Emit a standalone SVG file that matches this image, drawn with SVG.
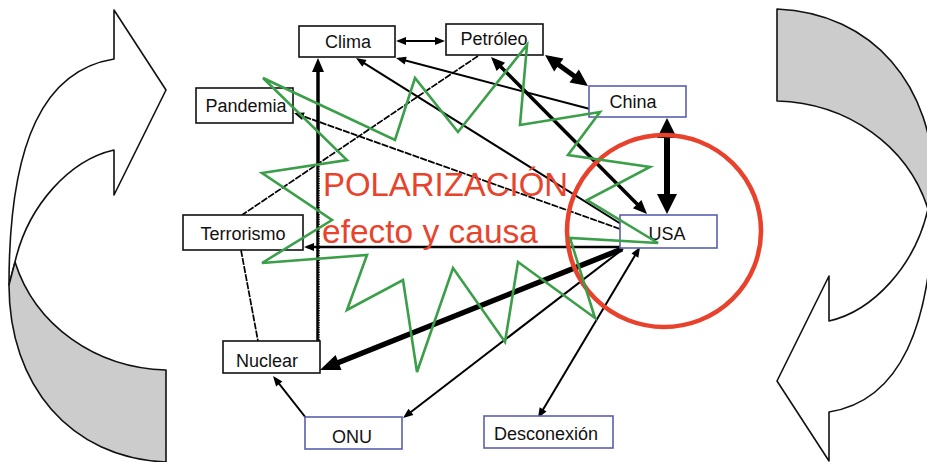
<svg xmlns="http://www.w3.org/2000/svg" width="927" height="462" viewBox="0 0 927 462">
<style>
.bk{fill:#fff;stroke:#111;stroke-width:1.6}
.bl{fill:#fff;stroke:#5b5fae;stroke-width:1.6}
.lb{font-family:"Liberation Sans",Arial,sans-serif;font-size:18px;fill:#111;text-anchor:middle}
.c{stroke:#000;fill:none}
.ds{stroke-dasharray:7,1.2}
.big{font-family:"Liberation Sans",Arial,sans-serif;font-size:33px;fill:#e8432b}
.arr{stroke:#111;stroke-width:1.6;stroke-linejoin:round}
</style>
<defs>
<marker id="ms" markerUnits="userSpaceOnUse" markerWidth="10" markerHeight="8" refX="7" refY="4" orient="auto-start-reverse" overflow="visible"><path d="M0,0 L10,4 L0,8 Z" fill="#000"/></marker>
<marker id="mm" markerUnits="userSpaceOnUse" markerWidth="14" markerHeight="12" refX="9" refY="6" orient="auto-start-reverse" overflow="visible"><path d="M0,0 L14,6 L0,12 Z" fill="#000"/></marker>
<marker id="mp" markerUnits="userSpaceOnUse" markerWidth="17" markerHeight="16" refX="11" refY="8" orient="auto-start-reverse" overflow="visible"><path d="M0,0 L17,8 L0,16 Z" fill="#000"/></marker>
<marker id="mn" markerUnits="userSpaceOnUse" markerWidth="20" markerHeight="16" refX="12" refY="8" orient="auto-start-reverse" overflow="visible"><path d="M0,0 L20,8 L0,16 Z" fill="#000"/></marker>
<marker id="ml" markerUnits="userSpaceOnUse" markerWidth="20" markerHeight="20" refX="13" refY="10" orient="auto-start-reverse" overflow="visible"><path d="M0,0 L20,10 L0,20 Z" fill="#000"/></marker>
<g id="curvedArrow">
<path class="arr" fill="#fff" d="M114,59 L114,10 L166,90 L114,195 L114,150 C70,160 28,205 15,262 L9,285 C9,140 45,70 114,59 Z"/>
<path class="arr" fill="#cccccc" d="M15,262 C35,325 95,368 166,370 L166,462 C70,458 9,385 9,285 Z"/>
</g>
</defs>

<g id="arrow-left"><use href="#curvedArrow"/></g>
<g id="arrow-right"><use href="#curvedArrow" transform="translate(943,471) rotate(180)"/></g>

<g id="connectors">
<line class="c" stroke-width="2" x1="399" y1="41" x2="442" y2="41" marker-start="url(#ms)" marker-end="url(#ms)"/>
<line class="c" stroke-width="5" x1="549.9" y1="58.5" x2="583.1" y2="82.5" marker-start="url(#mp)" marker-end="url(#mp)"/>
<line class="c" stroke-width="6" x1="667" y1="125" x2="667" y2="207" marker-start="url(#ml)" marker-end="url(#ml)"/>
<line class="c" stroke-width="3.5" x1="318" y1="341" x2="318" y2="63" marker-end="url(#mm)"/>
<line stroke="#fff" stroke-width="1.3" stroke-dasharray="1,1.4" x1="319.4" y1="165" x2="319.4" y2="340"/>
<line class="c" stroke-width="2.5" x1="621" y1="247" x2="307" y2="247" marker-end="url(#ms)"/>
<line class="c" stroke-width="5.5" x1="622" y1="249" x2="327.4" y2="367" marker-end="url(#mn)"/>
<line class="c" stroke-width="2" x1="623" y1="249" x2="405.4" y2="416.2" marker-end="url(#ms)"/>
<line class="c" stroke-width="2" x1="638.5" y1="249.6" x2="539.5" y2="415.4" marker-start="url(#ms)" marker-end="url(#ms)"/>
<line class="c" stroke-width="2" x1="306" y1="418" x2="274.9" y2="378.4" marker-end="url(#ms)"/>
<line class="c ds" stroke-width="1.7" x1="241" y1="250" x2="258" y2="341"/>
<line class="c ds" stroke-width="1.7" x1="478" y1="56" x2="242" y2="215"/>
<line class="c ds" stroke-width="1.8" x1="620" y1="229" x2="296.8" y2="114" marker-end="url(#ms)"/>
<line class="c" stroke-width="2" x1="621" y1="224" x2="358.5" y2="59.6" marker-end="url(#ms)"/>
<line class="c" stroke-width="2" x1="590" y1="109" x2="398.9" y2="58.8" marker-end="url(#ms)"/>
<line class="c" stroke-width="3.5" x1="494.5" y1="60.5" x2="643.5" y2="210.5" marker-start="url(#mm)" marker-end="url(#mm)"/>
</g>

<g id="node-clima"><rect class="bk" x="299" y="26" width="96" height="31"/><text class="lb" x="348" y="48">Clima</text></g>
<g id="node-petroleo"><rect class="bk" x="446" y="24" width="97" height="31"/><text class="lb" x="494" y="45">Petróleo</text></g>
<g id="node-pandemia"><rect class="bk" x="196" y="88" width="97" height="35"/><text class="lb" x="246" y="112">Pandemia</text></g>
<g id="node-china"><rect class="bl" x="589" y="86" width="97" height="31"/><text class="lb" x="633" y="108">China</text></g>
<g id="node-usa"><rect class="bl" x="620" y="215" width="97" height="33"/><text class="lb" x="667" y="240">USA</text></g>
<g id="node-terrorismo"><rect class="bk" x="183" y="215" width="120" height="35"/><text class="lb" x="243" y="240">Terrorismo</text></g>
<g id="node-nuclear"><rect class="bk" x="223" y="341" width="97" height="32"/><text class="lb" x="267" y="367">Nuclear</text></g>
<g id="node-onu"><rect class="bl" x="305" y="417" width="97" height="32"/><text class="lb" x="352" y="443">ONU</text></g>
<g id="node-desconexion"><rect class="bl" x="484" y="416" width="129" height="32"/><text class="lb" x="546" y="440">Desconexión</text></g>

<g id="polarizacion">
<ellipse cx="664" cy="231" rx="97" ry="96" fill="none" stroke="#e8412c" stroke-width="4.5"/>
<text class="big" x="323" y="196" textLength="245" lengthAdjust="spacingAndGlyphs">POLARIZACIÓN</text>
<text class="big" x="322" y="243" textLength="216" lengthAdjust="spacingAndGlyphs">efecto y causa</text>
<polygon fill="none" stroke="#3a9f48" stroke-width="2.6" stroke-linejoin="miter" points="263,78 395,140 415,78 458,132 527,45 520,125 600,112 568,155 650,167 587,200 658,243 570,238 595,318 518,262 505,342 453,268 417,372 403,280 347,310 367,255 262,263 332,220 262,173 347,160"/>
</g>
</svg>
